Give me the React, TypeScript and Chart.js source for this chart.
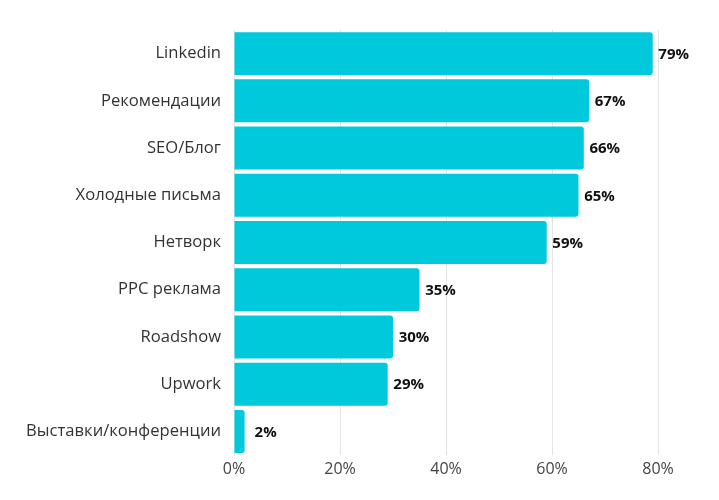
import React, { useEffect, useRef } from "react";
import { Chart, registerables } from "chart.js";

Chart.register(...registerables);

const categories = [
  "Linkedin",
  "Рекомендации",
  "SEO/Блог",
  "Холодные письма",
  "Нетворк",
  "PPC реклама",
  "Roadshow",
  "Upwork",
  "Выставки/конференции",
];
const values = [79, 67, 66, 65, 59, 35, 30, 29, 2];
const xTicks = [0, 20, 40, 60, 80];

const labelPlugin = {
  id: "barLabels",
  afterDatasetsDraw(chart: any) {
    const ctx = chart.ctx;
    const meta = chart.getDatasetMeta(0);
    ctx.save();
    ctx.font = "bold 15px 'Open Sans'";
    ctx.fillStyle = "#111";
    ctx.textAlign = "center";
    ctx.textBaseline = "middle";
    meta.data.forEach((bar: any, i: number) => {
      ctx.fillText(values[i] + "%", bar.x + 21, bar.y + 1);
    });
    ctx.restore();
  },
};

export default function App() {
  const ref = useRef<HTMLCanvasElement>(null);
  useEffect(() => {
    const chart = new Chart(ref.current!, {
      type: "bar",
      data: {
        labels: categories,
        datasets: [
          {
            data: values,
            backgroundColor: "#00C9DB",
            borderRadius: 3,
            borderSkipped: "start",
            barPercentage: 0.91,
            categoryPercentage: 1,
          },
        ],
      },
      options: {
        indexAxis: "y",
        responsive: false,
        animation: false,
        layout: { padding: { top: 30, right: 61, bottom: 0, left: 0 } },
        plugins: { legend: { display: false }, tooltip: { enabled: false } },
        scales: {
          x: {
            min: 0,
            max: 80,
            afterBuildTicks: (scale: any) => {
              scale.ticks = xTicks.map((v) => ({ value: v }));
            },
            afterFit: (scale: any) => {
              scale.height = 45;
            },
            grid: { color: "#e3e3e3", drawTicks: false },
            border: { display: false },
            ticks: {
              padding: 5,
              color: "#444",
              font: { family: "'Open Sans'", size: 16 },
              callback: (v: any) => v + "%",
            },
          },
          y: {
            afterFit: (scale: any) => {
              scale.width = 234;
            },
            grid: { display: false, drawTicks: false },
            border: { display: true, color: "#e3e3e3" },
            ticks: {
              padding: 13,
              color: "#333",
              font: { family: "'Open Sans'", size: 16.6 },
            },
          },
        },
      },
      plugins: [labelPlugin],
    });
    return () => chart.destroy();
  }, []);
  return (
    <div style={{ position: "absolute", left: 0, top: 0, width: 719, height: 500, background: "#fff" }}>
      <canvas ref={ref} width={719} height={500} style={{ display: "block" }} />
    </div>
  );
}
